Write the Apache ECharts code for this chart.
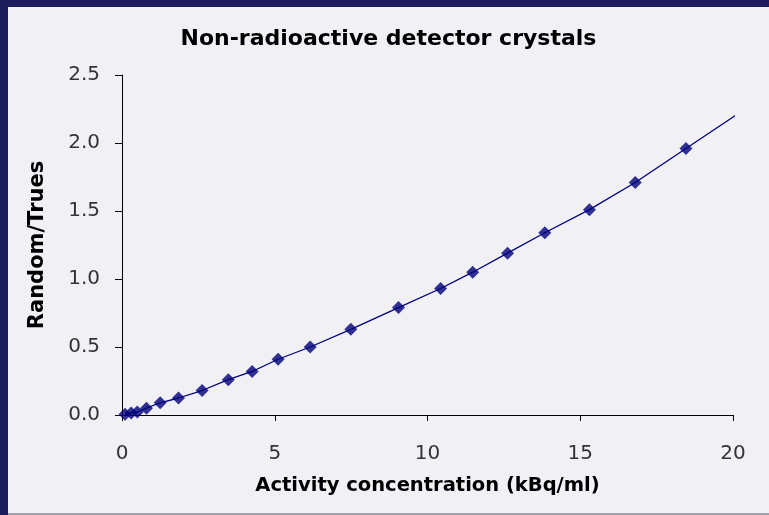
<!DOCTYPE html>
<html>
<head>
<meta charset="utf-8">
<script src="https://cdn.jsdelivr.net/npm/echarts@6/dist/echarts.min.js"></script>
<style>
  html, body { margin: 0; padding: 0; background: #1c1c5c; }
  #main { position: absolute; left: 8px; top: 7px; width: 761px; height: 506px; background: #f0f0f5; border-bottom: 2px solid #a0a0a8; }
</style>
</head>
<body>
<div id="main"></div>
<script>
// measured points (kBq/ml, random/trues ratio)
const activity = [0.1, 0.3, 0.5, 0.8, 1.25, 1.85, 2.62, 3.48, 4.26, 5.11, 6.16, 7.49, 9.05, 10.43, 11.48, 12.62, 13.84, 15.3, 16.8, 18.46];
const ratio = [0.005, 0.015, 0.022, 0.05, 0.09, 0.125, 0.18, 0.26, 0.32, 0.41, 0.5, 0.63, 0.79, 0.93, 1.05, 1.19, 1.34, 1.51, 1.71, 1.96];
// fitted curve keeps going past the last point
const trendEndX = 20.2;
const trendEndY = 2.22;

const chart = echarts.init(document.getElementById('main'));
const pts = activity.map((x, i) => [x, ratio[i]]);
const font = 'DejaVu Sans, Verdana, sans-serif';

chart.setOption({
  animation: false,
  title: {
    text: 'Non-radioactive detector crystals',
    left: 'center',
    top: 16,
    textStyle: { fontFamily: font, fontSize: 22, fontWeight: 'bold', color: '#000' }
  },
  grid: { left: 114, right: 36, top: 68, bottom: 98 },
  xAxis: {
    type: 'value',
    min: 0, max: 20, interval: 5,
    name: 'Activity concentration (kBq/ml)',
    nameLocation: 'middle',
    nameGap: 61,
    nameTextStyle: { fontFamily: font, fontSize: 19.5, fontWeight: 'bold', color: '#000' },
    axisLine: { lineStyle: { color: '#000', width: 1 } },
    axisTick: { length: 6, lineStyle: { color: '#000' } },
    axisLabel: { fontFamily: font, fontSize: 20, color: '#333', margin: 29 },
    splitLine: { show: false }
  },
  yAxis: {
    type: 'value',
    min: 0, max: 2.5, interval: 0.5,
    name: 'Random/Trues',
    nameLocation: 'middle',
    nameGap: 74,
    nameTextStyle: { fontFamily: font, fontSize: 21, fontWeight: 'bold', color: '#000' },
    axisLine: { show: true, lineStyle: { color: '#000', width: 1 } },
    axisTick: { show: true, length: 7, lineStyle: { color: '#000' } },
    axisLabel: { fontFamily: font, fontSize: 20, color: '#333', margin: 22, formatter: v => v.toFixed(1) },
    splitLine: { show: false }
  },
  series: [
    {
      type: 'line',
      data: pts.concat([[trendEndX, trendEndY]]),
      showSymbol: false,
      lineStyle: { color: '#000080', width: 1.3 },
      z: 2
    },
    {
      type: 'scatter',
      data: pts,
      symbol: 'diamond',
      symbolSize: 13,
      itemStyle: { color: '#00007a' },
      z: 3
    }
  ]
});
</script>
</body>
</html>
